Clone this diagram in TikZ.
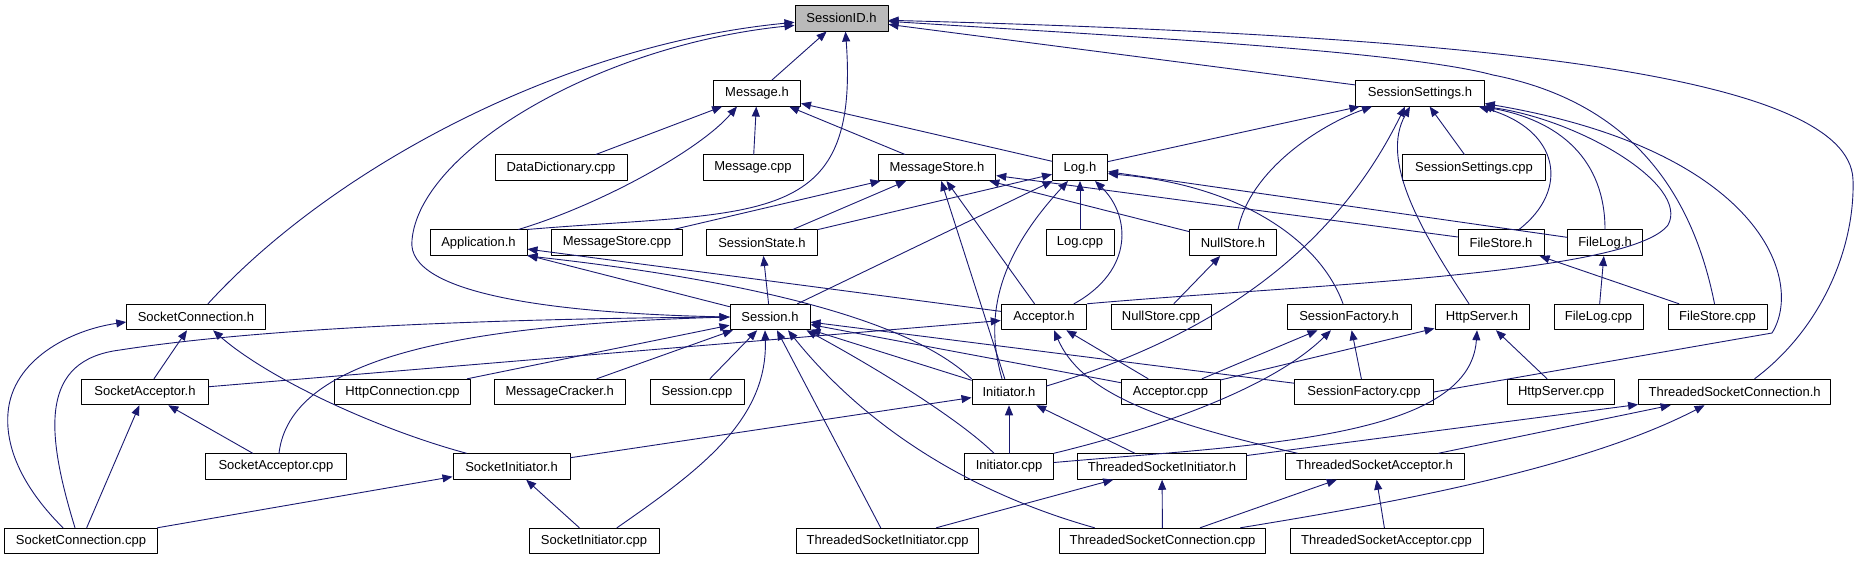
\documentclass[tikz,border=0pt]{standalone}
\usepackage{fontspec}
\setmainfont{Liberation Sans}
\usetikzlibrary{arrows.meta}
\definecolor{depblue}{HTML}{191970}
\tikzset{
  file/.style={draw=black, fill=white, line width=1pt, minimum height=25.5pt, inner sep=0pt, font=\fontsize{13}{15}\selectfont},
  dep/.style={draw=depblue, line width=0.9pt, -{Triangle[length=10pt,width=8pt]}},
}
\begin{document}
\begin{tikzpicture}[x=1pt, y=-1pt, line join=round, line cap=round]
\useasboundingbox (0,0) rectangle (1860,560);

% root of the graph
\node[file, fill=black!27, minimum width=93] (sid) at (841.5,18.3) {SessionID.h};

% all the other files, row by row
\foreach \nm/\x/\y/\w/\txt in {
  msgh/757/93.3/87/Message.h, ssh/1420/93.3/128.5/SessionSettings.h,
  ddcpp/561/167.7/132/DataDictionary.cpp, msgcpp/753/167.7/100/Message.cpp, msh/937/167.7/117.5/MessageStore.h,
  logh/1080/167.7/55/Log.h, sscpp/1474/167.7/142.5/SessionSettings.cpp,
  apph/478.5/242.7/97/Application.h, mscpp/617/242.7/131/MessageStore.cpp, ssth/762/242.7/111/SessionState.h,
  logcpp/1080/242.7/68/Log.cpp, nsh/1233/242.7/87/NullStore.h, fsh/1501/242.7/86/FileStore.h, flh/1605/242.7/75/FileLog.h,
  sch/196/317/138.5/SocketConnection.h, sesh/770/317/80/Session.h, acch/1044/317/85.5/Acceptor.h,
  nscpp/1161/317/100/NullStore.cpp, sfh/1349/317/124/SessionFactory.h, httph/1482/317/94/HttpServer.h,
  flcpp/1598.5/317/89/FileLog.cpp, fscpp/1717.5/317/99/FileStore.cpp,
  sah/145/392/127/SocketAcceptor.h, httpcpp/402.5/392/136/HttpConnection.cpp, mch/559.7/392/130.7/MessageCracker.h,
  sescpp/697/392/94/Session.cpp, inith/1009/392/74/Initiator.h, acccpp/1170.5/392/99/Acceptor.cpp,
  sfcpp/1364/392/138.5/SessionFactory.cpp, hscpp/1561/392/107/HttpServer.cpp, tsch/1734.6/392/192/ThreadedSocketConnection.h,
  sacpp/276/466.5/140.5/SocketAcceptor.cpp, sih/511.5/466.5/117/SocketInitiator.h, initcpp/1009/466.5/89/Initiator.cpp,
  tsih/1162/466.5/169/ThreadedSocketInitiator.h, tsah/1374.5/466.5/179/ThreadedSocketAcceptor.h,
  sccpp/81/541/153/SocketConnection.cpp, sicpp/594/541/130/SocketInitiator.cpp, tsicpp/887.6/541/182/ThreadedSocketInitiator.cpp,
  tsccpp/1162.5/541/206/ThreadedSocketConnection.cpp, tsacpp/1386.5/541/193/ThreadedSocketAcceptor.cpp}
  \node[file, minimum width=\w] (\nm) at (\x,\y) {\txt};

% straight includes
\foreach \a/\b in {msgh/sid, ssh/sid, ddcpp/msgh, msgcpp/msgh, msh/msgh, logh/msgh, logh/ssh, sscpp/ssh,
  mscpp/msh, ssth/msh, inith/msh, acch/msh, nsh/msh, fsh/msh, ssth/logh, sesh/logh, logcpp/logh, flh/logh,
  sesh/apph, acch/apph, sesh/ssth, nscpp/nsh, fscpp/fsh, flcpp/flh, sah/sch, httpcpp/sesh, mch/sesh,
  sescpp/sesh, tsicpp/sesh, inith/sesh, acccpp/sesh, sfcpp/sesh, sah/acch, acccpp/acch, acccpp/sfh,
  sfcpp/sfh, acccpp/httph, hscpp/httph, sih/inith, initcpp/inith, tsih/inith, sacpp/sah, sccpp/sah,
  sccpp/sih, sicpp/sih, tsih/tsch, tsah/tsch, tsicpp/tsih, tsccpp/tsih, tsccpp/tsah, tsacpp/tsah}
  \draw[dep] (\a) -- (\b);

% bent includes
\draw[dep] (apph.north east) .. controls (760,210) and (860,230) .. ([xshift=4]sid.south);
\draw[dep] ([xshift=12]sch.north) .. controls (330,170) and (560,45) .. ([yshift=-4]sid.west);
\draw[dep] (sesh.west) .. controls (560,314) and (405,295) .. (412,240) .. controls (420,150) and (600,45) .. ([yshift=-7]sid.west);
\draw[dep] ([xshift=-3]fscpp.north) .. controls (1690,180) and (1620,100) .. (1493,75) .. controls (1400,50) and (1100,35) .. ([yshift=-3]sid.east);
\draw[dep] ([xshift=20]tsch.north) .. controls (1820,330) and (1855,250) .. (1853,180) .. controls (1850,70) and (1450,35) .. ([yshift=-2]sid.east);
\draw[dep] ([xshift=40]apph.north) .. controls (600,205) and (700,150) .. ([xshift=-20]msgh.south);
\draw[dep] ([xshift=5]nsh.north) .. controls (1250,170) and (1320,125) .. ([xshift=-48]ssh.south);
\draw[dep] ([yshift=6]inith.east) .. controls (1200,340) and (1330,260) .. ([xshift=-15]ssh.south);
\draw[dep] ([xshift=-13]httph.north) .. controls (1420,230) and (1380,160) .. ([xshift=-10]ssh.south);
\draw[dep] ([xshift=18]fsh.north) .. controls (1570,190) and (1560,130) .. ([xshift=-6]ssh.south east);
\draw[dep] (flh.north) .. controls (1605,160) and (1560,120) .. ([xshift=-3]ssh.south east);
\draw[dep] (acch.north east) .. controls (1300,285) and (1630,275) .. (1668,225) .. controls (1690,185) and (1580,120) .. (ssh.south east);
\draw[dep] (sfcpp.east) -- (1772,333) .. controls (1805,280) and (1760,150) .. ([yshift=3]ssh.south east);
\draw[dep] ([xshift=-7]inith.north) .. controls (985,320) and (995,260) .. ([xshift=-12]logh.south);
\draw[dep] ([xshift=30]acch.north) .. controls (1135,270) and (1130,215) .. ([xshift=15]logh.south);
\draw[dep] ([xshift=-6]sfh.north) .. controls (1320,240) and (1240,185) .. ([yshift=-6]logh.east);
\draw[dep] (inith.north west) .. controls (900,310) and (700,275) .. (apph.south east);
\draw[dep] ([xshift=-45]sih.north) .. controls (380,430) and (270,380) .. ([xshift=17]sch.south);
\draw[dep] ([xshift=-18]sccpp.north) .. controls (25,490) and (5,450) .. (8,413) .. controls (12,360) and (70,330) .. ([yshift=-5]sch.west);
\draw[dep] ([xshift=-6]sccpp.north) .. controls (45,430) and (40,360) .. (120,350) .. controls (300,322) and (600,318) .. (sesh.west);
\draw[dep] ([xshift=3]sacpp.north) .. controls (290,360) and (450,325) .. (sesh.west);
\draw[dep] ([xshift=23]sicpp.north) .. controls (700,470) and (768,420) .. ([xshift=-5]sesh.south);
\draw[dep] ([xshift=-68]tsccpp.north) .. controls (960,490) and (860,420) .. ([xshift=18]sesh.south);
\draw[dep] ([xshift=-15]initcpp.north) .. controls (960,420) and (880,370) .. ([xshift=-4]sesh.south east);
\draw[dep] ([xshift=-77]tsah.north) .. controls (1150,420) and (1080,390) .. ([xshift=10]acch.south);
\draw[dep] (initcpp.north east) .. controls (1150,430) and (1270,390) .. ([xshift=-18]sfh.south);
\draw[dep] ([yshift=4]initcpp.east) .. controls (1250,445) and (1470,440) .. ([xshift=-5]httph.south);
\draw[dep] ([xshift=78]tsccpp.north) .. controls (1380,505) and (1580,470) .. ([xshift=-30]tsch.south);
\end{tikzpicture}
\end{document}
